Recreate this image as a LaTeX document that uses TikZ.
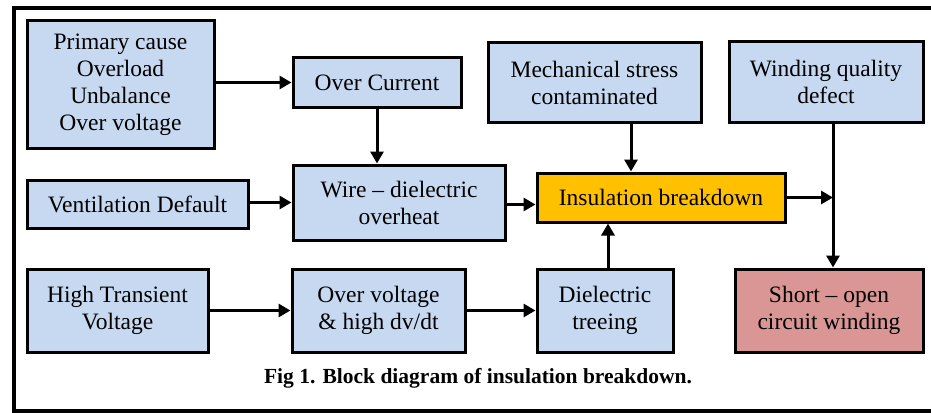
\documentclass[tikz,border=0pt]{standalone}
\usepackage{fontspec}
\setmainfont{Liberation Serif}
\usetikzlibrary{arrows.meta,calc}
\definecolor{lblue}{HTML}{C6D9F1}
\definecolor{orng}{HTML}{FFC000}
\definecolor{lred}{HTML}{D99694}
\tikzset{
  bbox/.style={draw=black, line width=3pt, fill=lblue, align=center, inner sep=0pt,
    font=\fontsize{23.5}{27}\selectfont},
  arr/.style={line width=3pt, -{Triangle[length=12pt,width=13pt]}}
}
\begin{document}
\begin{tikzpicture}[x=1pt,y=-1pt]
\useasboundingbox (0,0) rectangle (931,412);
\draw[line width=4pt] (945,8) -- (14,8) -- (14,410.5) -- (945,410.5);
% nodes
\node[bbox, minimum width=187pt, minimum height=127pt] (prim) at (120.5,84.5) {Primary cause\\Overload\\Unbalance\\Over voltage};
\node[bbox, minimum width=168pt, minimum height=49pt] (oc) at (377,82.5) {Over Current};
\node[bbox, minimum width=221pt, minimum height=48pt] (vent) at (137.5,204) {Ventilation Default};
\node[bbox, minimum width=212pt, minimum height=75pt] (wire) at (399,202.5) {Wire -- dielectric\\overheat};
\node[bbox, minimum width=213pt, minimum height=79pt] (mech) at (594.5,82.5) {Mechanical stress\\contaminated};
\node[bbox, minimum width=194pt, minimum height=80pt] (wind) at (826,82) {Winding quality\\defect};
\node[bbox, fill=orng, minimum width=248pt, minimum height=49pt] (ins) at (661,197.5) {Insulation breakdown};
\node[bbox, minimum width=181pt, minimum height=83pt] (ht) at (117.5,310.5) {High Transient\\Voltage};
\node[bbox, minimum width=173pt, minimum height=83pt] (ov) at (378.5,310.5) {Over voltage\\\& high dv/dt};
\node[bbox, minimum width=136pt, minimum height=83pt] (diel) at (605,310.5) {Dielectric\\treeing};
\node[bbox, fill=lred, minimum width=188pt, minimum height=83pt] (short) at (829,310.5) {Short -- open\\circuit winding};
\node[font=\bfseries\fontsize{21.5}{24}\selectfont] (cap) at (478,378) {Fig 1. Block diagram of insulation breakdown.};
% connectors
\coordinate (jn) at (833,197.5);
\draw[arr] (prim.east |- oc.west) -- (oc.west);
\draw[arr] (oc.south) -- (oc.south |- wire.north);
\draw[arr] (vent.east |- wire.west) -- (wire.west);
\draw[arr] ([yshift=-2pt]wire.east) -- ([yshift=-2pt]wire.east -| ins.west);
\draw[arr] ([xshift=36.5pt]mech.south) -- ([xshift=36.5pt]mech.south |- ins.north);
\draw[arr] (ins.east) -- (jn);
\draw[arr] (wind.south -| jn) -- (short.north -| jn);
\draw[arr] ([xshift=3pt]diel.north) -- ([xshift=3pt]diel.north |- ins.south);
\draw[arr] (ht.east |- ov.west) -- (ov.west);
\draw[arr] (ov.east) -- (ov.east -| diel.west);
\end{tikzpicture}
\end{document}
